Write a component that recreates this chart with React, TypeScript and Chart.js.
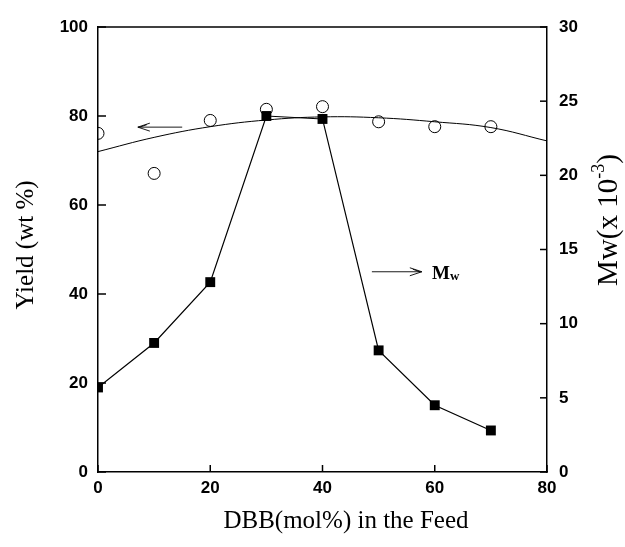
import React, { useEffect, useRef } from 'react';
import { Chart, registerables } from 'chart.js';

Chart.register(...registerables);

// ---- data ----
const feedDBB = [0, 10, 20, 30, 40, 50, 60, 70];
const yieldValues = [76.1, 67.1, 79.0, 81.5, 82.1, 78.7, 77.6, 77.6];
const mwValues = [5.7, 8.7, 12.8, 24.0, 23.8, 8.2, 4.5, 2.8];
const fitX = [0, 10, 20, 30, 40, 50, 60, 70, 80];
const fitYield = [72.0, 75.2, 77.6, 79.1, 79.8, 79.6, 78.7, 77.4, 74.4];
const xTicks = [0, 20, 40, 60, 80];
const yLeftTicks = [0, 20, 40, 60, 80, 100];
const yRightTicks = [0, 5, 10, 15, 20, 25, 30];
const xTitle = 'DBB(mol%) in the Feed';
const yLeftTitle = 'Yield (wt %)';
const yRightTitleMain = 'Mw(x 10';
const yRightTitleSup = '-3';
const yRightTitleEnd = ')';
const yieldArrow = { from: 15.0, to: 7.1, y: 77.5 };
const mwArrow = { from: 48.8, to: 57.7, y: 45.0, textX: 59.5 };

const SERIF = '"Liberation Serif", "DejaVu Serif", serif';
const SANS = '"Liberation Sans", Arial, sans-serif';

function drawArrow(ctx: CanvasRenderingContext2D, x1: number, y: number, x2: number) {
  // x1 tail, x2 head
  const dir = Math.sign(x2 - x1);
  ctx.beginPath();
  ctx.moveTo(x1, y);
  ctx.lineTo(x2, y);
  ctx.stroke();
  const L = 12;
  ctx.beginPath();
  ctx.moveTo(x2 - dir * L, y - 4);
  ctx.lineTo(x2, y);
  ctx.lineTo(x2 - dir * L, y + 4);
  ctx.stroke();
  ctx.beginPath();
  ctx.moveTo(x2 - dir * (L - 3), y - 2.5);
  ctx.lineTo(x2 - dir * 2, y);
  ctx.stroke();
}

const decorations = {
  id: 'decorations',
  afterDraw(chart: any) {
    const { ctx, chartArea: a, scales } = chart;
    const sx = scales.x, sy = scales.y, sy2 = scales.y2;
    ctx.save();
    ctx.strokeStyle = '#000';
    ctx.lineWidth = 1.5;
    const line = (x1: number, y1: number, x2: number, y2: number) => {
      ctx.beginPath();
      ctx.moveTo(x1, y1);
      ctx.lineTo(x2, y2);
      ctx.stroke();
    };
    // top frame
    line(a.left, a.top, a.right, a.top);
    // inward ticks
    xTicks.forEach((v) => {
      const px = sx.getPixelForValue(v);
      line(px, a.bottom, px, a.bottom - 7);
    });
    yLeftTicks.forEach((v) => {
      const py = sy.getPixelForValue(v);
      line(a.left, py, a.left + 8, py);
    });
    yRightTicks.forEach((v) => {
      const py = sy2.getPixelForValue(v);
      line(a.right, py, a.right - 7, py);
    });

    // arrows
    ctx.lineWidth = 0.9;
    drawArrow(ctx, sx.getPixelForValue(yieldArrow.from), sy.getPixelForValue(yieldArrow.y), sx.getPixelForValue(yieldArrow.to));
    drawArrow(ctx, sx.getPixelForValue(mwArrow.from), sy.getPixelForValue(mwArrow.y), sx.getPixelForValue(mwArrow.to));

    // Mw label
    ctx.fillStyle = '#000';
    ctx.textBaseline = 'alphabetic';
    ctx.textAlign = 'left';
    const mx = sx.getPixelForValue(mwArrow.textX);
    const my = sy.getPixelForValue(mwArrow.y) + 7;
    ctx.font = 'bold 19px ' + SERIF;
    ctx.fillText('M', mx, my);
    const mw = ctx.measureText('M').width;
    ctx.font = 'bold 13px ' + SERIF;
    ctx.fillText('w', mx + mw, my + 1);

    // axis titles
    ctx.textAlign = 'center';
    ctx.textBaseline = 'middle';
    ctx.font = '25px ' + SERIF;
    ctx.fillText(xTitle, 346, 521);

    ctx.save();
    ctx.translate(26, 245);
    ctx.rotate(-Math.PI / 2);
    ctx.font = '25px ' + SERIF;
    ctx.fillText(yLeftTitle, 0, 0);
    ctx.restore();

    ctx.save();
    ctx.translate(609, 220);
    ctx.rotate(-Math.PI / 2);
    ctx.textAlign = 'left';
    const mainFont = '29px ' + SERIF;
    const supFont = '18px ' + SERIF;
    ctx.font = mainFont;
    const w1 = ctx.measureText(yRightTitleMain).width;
    const w3 = ctx.measureText(yRightTitleEnd).width;
    ctx.font = supFont;
    const w2 = ctx.measureText(yRightTitleSup).width;
    let cx = -(w1 + w2 + w3) / 2;
    ctx.font = mainFont;
    ctx.fillText(yRightTitleMain, cx, 0);
    cx += w1;
    ctx.font = supFont;
    ctx.fillText(yRightTitleSup, cx, -10);
    cx += w2;
    ctx.font = mainFont;
    ctx.fillText(yRightTitleEnd, cx, 0);
    ctx.restore();

    ctx.restore();
  },
};

export default function App() {
  const ref = useRef<HTMLCanvasElement | null>(null);
  useEffect(() => {
    if (!ref.current) return;
    const tickFont = { family: SANS, size: 17, weight: 'bold' as const };
    const chart = new Chart(ref.current, {
      type: 'scatter',
      data: {
        datasets: [
          {
            label: 'fit',
            data: fitX.map((x, i) => ({ x, y: fitYield[i] })),
            showLine: true,
            pointRadius: 0,
            borderColor: '#000',
            borderWidth: 1,
            tension: 0.4,
            yAxisID: 'y',
          },
          {
            label: 'Yield',
            data: feedDBB.map((x, i) => ({ x, y: yieldValues[i] })),
            showLine: false,
            pointStyle: 'circle',
            pointRadius: 6,
            pointBorderWidth: 1,
            pointBorderColor: '#000',
            pointBackgroundColor: 'rgba(255,255,255,0)',
            yAxisID: 'y',
          },
          {
            label: 'Mw',
            data: feedDBB.map((x, i) => ({ x, y: mwValues[i] })),
            showLine: true,
            borderColor: '#000',
            borderWidth: 1.2,
            pointStyle: 'rect',
            pointRadius: 7,
            pointBorderWidth: 0,
            pointBackgroundColor: '#000',
            pointBorderColor: '#000',
            yAxisID: 'y2',
          },
        ],
      },
      options: {
        responsive: false,
        animation: false,
        devicePixelRatio: 1,
        layout: { padding: { top: 27, left: 0, right: 0, bottom: 0 } },
        plugins: { legend: { display: false }, tooltip: { enabled: false } },
        scales: {
          x: {
            type: 'linear',
            position: 'bottom',
            min: 0,
            max: 80,
            afterBuildTicks: (s: any) => {
              s.ticks = xTicks.map((v) => ({ value: v }));
            },
            afterFit: (s: any) => {
              s.height = 75;
            },
            ticks: { font: tickFont, color: '#000', padding: 6 },
            grid: { display: false, drawTicks: false },
            border: { display: true, color: '#000', width: 1.5 },
          },
          y: {
            type: 'linear',
            position: 'left',
            min: 0,
            max: 100,
            afterBuildTicks: (s: any) => {
              s.ticks = yLeftTicks.map((v) => ({ value: v }));
            },
            afterFit: (s: any) => {
              s.width = 98;
            },
            ticks: { font: tickFont, color: '#000', padding: 10 },
            grid: { display: false, drawTicks: false },
            border: { display: true, color: '#000', width: 1.5 },
          },
          y2: {
            type: 'linear',
            position: 'right',
            min: 0,
            max: 30,
            afterBuildTicks: (s: any) => {
              s.ticks = yRightTicks.map((v) => ({ value: v }));
            },
            afterFit: (s: any) => {
              s.width = 78;
            },
            ticks: { font: tickFont, color: '#000', padding: 12 },
            grid: { display: false, drawTicks: false },
            border: { display: true, color: '#000', width: 1.5 },
          },
        },
      },
      plugins: [decorations],
    } as any);
    return () => chart.destroy();
  }, []);
  return (
    <div style={{ position: 'absolute', left: 0, top: 0, width: 625, height: 547, background: '#fff' }}>
      <canvas ref={ref} width={625} height={547} style={{ display: 'block' }} />
    </div>
  );
}
